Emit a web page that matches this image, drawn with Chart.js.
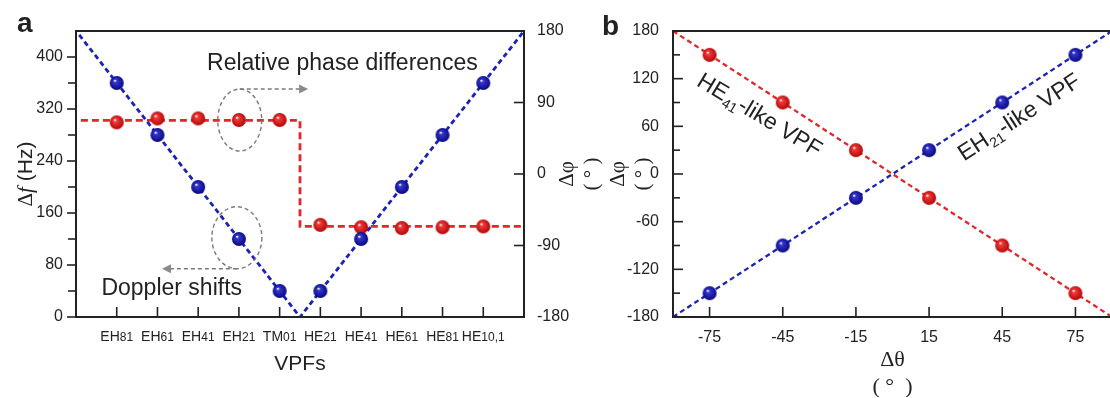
<!DOCTYPE html>
<html>
<head>
<meta charset="utf-8">
<script src="https://cdn.jsdelivr.net/npm/chart.js@4.4.1/dist/chart.umd.min.js"></script>
<style>
  html, body { margin: 0; padding: 0; background: #fff; overflow: hidden; }
  #wrap { position: relative; width: 1110px; height: 398px; overflow: hidden; }
  #chartA { position: absolute; left: 0; top: 0; }
  #chartB { position: absolute; left: 540px; top: 0; }
</style>
</head>
<body>
<div id="wrap">
  <canvas id="chartA" width="580" height="398"></canvas>
  <canvas id="chartB" width="580" height="401"></canvas>
</div>
<script>
const INK = "#222";
const BLUE = "#1b22b8";
const RED = "#e3262b";
const SANS = "'Liberation Sans', Arial, sans-serif";
const SERIF = "'Liberation Serif', 'Times New Roman', serif";

// panel a
const vpfBase = ["EH", "EH", "EH", "EH", "TM", "HE", "HE", "HE", "HE", "HE"];
const vpfSub = ["81", "61", "41", "21", "01", "21", "41", "61", "81", "10,1"];
const vpfPos = [1, 2, 3, 4, 5, 6, 7, 8, 9, 10];
const dopplerHz = [360, 280, 200, 120, 40, 40, 120, 200, 280, 360];
const phaseDiff = [65, 70, 70, 68, 68, -64, -67, -68, -67, -66];
const dopplerFitX = [0.08, 5.5, 11];
const dopplerFitY = [434, 0, 440];
const phaseFitX = [0.12, 5.5, 5.5, 11];
const phaseFitY = [67.5, 67.5, -66, -66];
const hzTicks = [0, 80, 160, 240, 320, 400];
const hzMinor = [40, 120, 200, 280, 360];
const phiTicksA = [-180, -90, 0, 90, 180];

// panel b
const thetaDeg = [-75, -45, -15, 15, 45, 75];
const eh21Phase = [-150, -90, -30, 30, 90, 150];
const he41Phase = [150, 90, 30, -30, -90, -150];
const fitTheta = [-90, 90];
const eh21Fit = [-180, 180];
const he41Fit = [180, -180];
const phiTicksB = [-180, -120, -60, 0, 60, 120, 180];
const phiMinorB = [-150, -90, -30, 30, 90, 150];

Chart.defaults.font.family = SANS;
Chart.defaults.color = INK;

function pts(xs, ys) {
  return xs.map((x, i) => ({ x, y: ys[i] }));
}

function ball(dark, light) {
  const c = document.createElement("canvas");
  c.width = 16;
  c.height = 16;
  const g = c.getContext("2d");
  const grad = g.createRadialGradient(6, 5.5, 0.3, 8, 8, 7.5);
  grad.addColorStop(0, "#ffffff");
  grad.addColorStop(0.2, light);
  grad.addColorStop(1, dark);
  g.fillStyle = grad;
  g.beginPath();
  g.arc(8, 8, 7, 0, Math.PI * 2);
  g.fill();
  return c;
}

const blueBall = ball("#06067a", "#3535d0");
const redBall = ball("#b00404", "#f03a3a");

function seg(ctx, x1, y1, x2, y2) {
  ctx.beginPath();
  ctx.moveTo(x1, y1);
  ctx.lineTo(x2, y2);
  ctx.stroke();
}

// text made of runs with their own font, centred on (x, y) = baseline point
function drawRuns(ctx, runs, x, y, angle) {
  ctx.save();
  ctx.translate(x, y);
  ctx.rotate(angle || 0);
  ctx.textAlign = "left";
  ctx.textBaseline = "alphabetic";
  let w = 0;
  runs.forEach((r) => {
    ctx.font = r.font;
    r.w = ctx.measureText(r.t).width;
    w += r.w;
  });
  let cx = -w / 2;
  runs.forEach((r) => {
    ctx.font = r.font;
    ctx.fillText(r.t, cx, r.dy || 0);
    cx += r.w;
  });
  ctx.restore();
}

function dashedArrow(ctx, x1, y, x2) {
  const dir = x2 > x1 ? 1 : -1;
  ctx.setLineDash([4, 3]);
  seg(ctx, x1, y, x2 - dir * 8, y);
  ctx.setLineDash([]);
  ctx.beginPath();
  ctx.moveTo(x2, y);
  ctx.lineTo(x2 - dir * 9, y - 4.5);
  ctx.lineTo(x2 - dir * 9, y + 4.5);
  ctx.closePath();
  ctx.fill();
}

const panelA = {
  id: "panelA",
  afterDraw(chart) {
    const { ctx, chartArea: a, scales } = chart;
    const x = scales.x, yf = scales.yf, yp = scales.yp;
    ctx.save();
    ctx.strokeStyle = INK;
    ctx.fillStyle = INK;
    ctx.lineWidth = 2;
    ctx.strokeRect(a.left, a.top, a.right - a.left, a.bottom - a.top);

    ctx.lineWidth = 1.6;
    hzTicks.forEach((v) => seg(ctx, a.left - 9, yf.getPixelForValue(v), a.left, yf.getPixelForValue(v)));
    hzMinor.forEach((v) => seg(ctx, a.left - 8, yf.getPixelForValue(v), a.left, yf.getPixelForValue(v)));
    phiTicksA.forEach((v) => seg(ctx, a.right - 10, yp.getPixelForValue(v), a.right, yp.getPixelForValue(v)));
    vpfPos.forEach((p) => seg(ctx, x.getPixelForValue(p), a.bottom - 10, x.getPixelForValue(p), a.bottom));

    vpfPos.forEach((p, i) => {
      drawRuns(ctx, [
        { t: vpfBase[i], font: "14px " + SANS },
        { t: vpfSub[i], font: "12px " + SANS },
      ], x.getPixelForValue(p), 341);
    });

    drawRuns(ctx, [
      { t: "\u0394", font: "21px " + SERIF },
      { t: "f", font: "italic 21px " + SERIF },
      { t: " (Hz)", font: "21px " + SANS },
    ], 32, (a.top + a.bottom) / 2, -Math.PI / 2);

    ctx.font = "bold 28px " + SANS;
    ctx.textAlign = "left";
    ctx.textBaseline = "alphabetic";
    ctx.fillText("a", 17, 32);

    ctx.font = "23px " + SANS;
    ctx.textAlign = "center";
    ctx.textBaseline = "middle";
    ctx.fillText("Relative phase differences", x.getPixelForValue(6.54), yf.getPixelForValue(389));
    ctx.fillText("Doppler shifts", x.getPixelForValue(2.35), yf.getPixelForValue(44));

    ctx.strokeStyle = "#7a7a7a";
    ctx.fillStyle = "#8a8a8a";
    ctx.lineWidth = 1.4;
    const up = { x: x.getPixelForValue(4.02), y: yf.getPixelForValue(303) };
    const lo = { x: x.getPixelForValue(3.95), y: yf.getPixelForValue(122) };
    ctx.setLineDash([4, 3]);
    ctx.beginPath();
    ctx.ellipse(up.x, up.y, 22, 31, 0, 0, Math.PI * 2);
    ctx.stroke();
    ctx.beginPath();
    ctx.ellipse(lo.x, lo.y, 25, 31, 0, 0, Math.PI * 2);
    ctx.stroke();
    ctx.lineWidth = 1.6;
    dashedArrow(ctx, up.x, up.y - 31, x.getPixelForValue(5.7));
    dashedArrow(ctx, lo.x, lo.y + 31, x.getPixelForValue(2.11));
    ctx.restore();
  },
};

const panelB = {
  id: "panelB",
  afterDraw(chart) {
    const { ctx, chartArea: a, scales } = chart;
    const x = scales.x, y = scales.y;
    ctx.save();
    ctx.strokeStyle = INK;
    ctx.fillStyle = INK;
    ctx.lineWidth = 2;
    ctx.strokeRect(a.left, a.top, a.right - a.left, a.bottom - a.top);

    ctx.lineWidth = 1.6;
    phiTicksB.forEach((v) => seg(ctx, a.left, y.getPixelForValue(v), a.left + 10, y.getPixelForValue(v)));
    phiMinorB.forEach((v) => seg(ctx, a.left, y.getPixelForValue(v), a.left + 7, y.getPixelForValue(v)));
    thetaDeg.forEach((v) => seg(ctx, x.getPixelForValue(v), a.bottom - 10, x.getPixelForValue(v), a.bottom));

    drawRuns(ctx, [
      { t: "HE", font: "23px " + SANS },
      { t: "41", font: "14px " + SANS, dy: 5 },
      { t: "-like VPF", font: "23px " + SANS },
    ], x.getPixelForValue(-56), y.getPixelForValue(66.5), Math.PI * 31 / 180);
    drawRuns(ctx, [
      { t: "EH", font: "23px " + SANS },
      { t: "21", font: "14px " + SANS, dy: 5 },
      { t: "-like VPF", font: "23px " + SANS },
    ], x.getPixelForValue(53.5), y.getPixelForValue(64), -Math.PI * 33 / 180);

    ctx.font = "bold 28px " + SANS;
    ctx.textAlign = "left";
    ctx.textBaseline = "alphabetic";
    ctx.fillText("b", 62, 35);
    ctx.restore();
  },
};

function fixTicks(list) {
  return (s) => {
    s.ticks = list.map((v) => ({ value: v }));
  };
}

const noGrid = { display: false, drawTicks: false };
const noBorder = { display: false };

new Chart(document.getElementById("chartA"), {
  type: "scatter",
  data: {
    datasets: [
      { data: pts(vpfPos, dopplerHz), yAxisID: "yf", pointStyle: blueBall, pointRadius: 7, order: 0 },
      { data: pts(vpfPos, phaseDiff), yAxisID: "yp", pointStyle: redBall, pointRadius: 7, order: 0 },
      {
        data: pts(dopplerFitX, dopplerFitY), yAxisID: "yf", showLine: true,
        borderColor: BLUE, borderWidth: 2.8, borderDash: [5, 3.5], pointRadius: 0, order: 1,
      },
      {
        data: pts(phaseFitX, phaseFitY), yAxisID: "yp", showLine: true,
        borderColor: RED, borderWidth: 2.8, borderDash: [7, 4], pointRadius: 0, order: 1,
      },
    ],
  },
  options: {
    responsive: false,
    animation: false,
    layout: { padding: { top: 31, left: 0, right: 0, bottom: 0 } },
    plugins: { legend: { display: false }, tooltip: { enabled: false } },
    scales: {
      x: {
        type: "linear", min: 0, max: 11,
        grid: noGrid, border: noBorder,
        ticks: { display: false },
        title: { display: true, text: "VPFs", color: INK, font: { size: 21, lineHeight: 1.2 }, padding: { top: 0, bottom: 21 } },
        afterFit: (s) => { s.height = 81; },
      },
      yf: {
        type: "linear", position: "left", min: 0, max: 440,
        grid: noGrid, border: noBorder,
        afterBuildTicks: fixTicks(hzTicks),
        ticks: { padding: 13, color: INK, font: { size: 16 } },
        afterFit: (s) => { s.width = 76; },
      },
      yp: {
        type: "linear", position: "right", min: -180, max: 180,
        grid: noGrid, border: noBorder,
        afterBuildTicks: fixTicks(phiTicksA),
        ticks: { padding: 13, color: INK, font: { size: 16 } },
        afterFit: (s) => { s.width = 56; },
      },
    },
  },
  plugins: [panelA],
});

new Chart(document.getElementById("chartB"), {
  type: "scatter",
  data: {
    datasets: [
      { data: pts(thetaDeg, he41Phase), pointStyle: redBall, pointRadius: 7, order: 0 },
      { data: pts(thetaDeg, eh21Phase), pointStyle: blueBall, pointRadius: 7, order: 0 },
      {
        data: pts(fitTheta, he41Fit), showLine: true,
        borderColor: RED, borderWidth: 2.3, borderDash: [5, 3.5], pointRadius: 0, order: 1,
      },
      {
        data: pts(fitTheta, eh21Fit), showLine: true,
        borderColor: BLUE, borderWidth: 2.3, borderDash: [5, 3.5], pointRadius: 0, order: 1,
      },
    ],
  },
  options: {
    responsive: false,
    animation: false,
    layout: { padding: { top: 31, left: 0, right: 0, bottom: 0 } },
    plugins: { legend: { display: false }, tooltip: { enabled: false } },
    scales: {
      x: {
        type: "linear", min: -90, max: 90,
        grid: noGrid, border: noBorder,
        afterBuildTicks: fixTicks(thetaDeg),
        ticks: { padding: 11, color: INK, font: { size: 16 } },
        title: {
          display: true, text: ["\u0394\u03b8", "( \u00b0  )"], color: INK,
          font: { family: SERIF, size: 22, lineHeight: 1.23 }, padding: { top: 0, bottom: 0 },
        },
        afterFit: (s) => { s.height = 84; },
      },
      y: {
        type: "linear", position: "left", min: -180, max: 180,
        grid: noGrid, border: noBorder,
        afterBuildTicks: fixTicks(phiTicksB),
        ticks: { padding: 14, color: INK, font: { size: 16 } },
        title: {
          display: true, text: ["\u0394\u03c6", "( \u00b0 )", "\u0394\u03c6", "( \u00b0 )"], color: INK,
          font: { family: SERIF, size: 21, lineHeight: 1.2 }, padding: { top: 15, bottom: 0 },
        },
        afterFit: (s) => { s.width = 133; },
      },
    },
  },
  plugins: [panelB],
});
</script>
</body>
</html>
